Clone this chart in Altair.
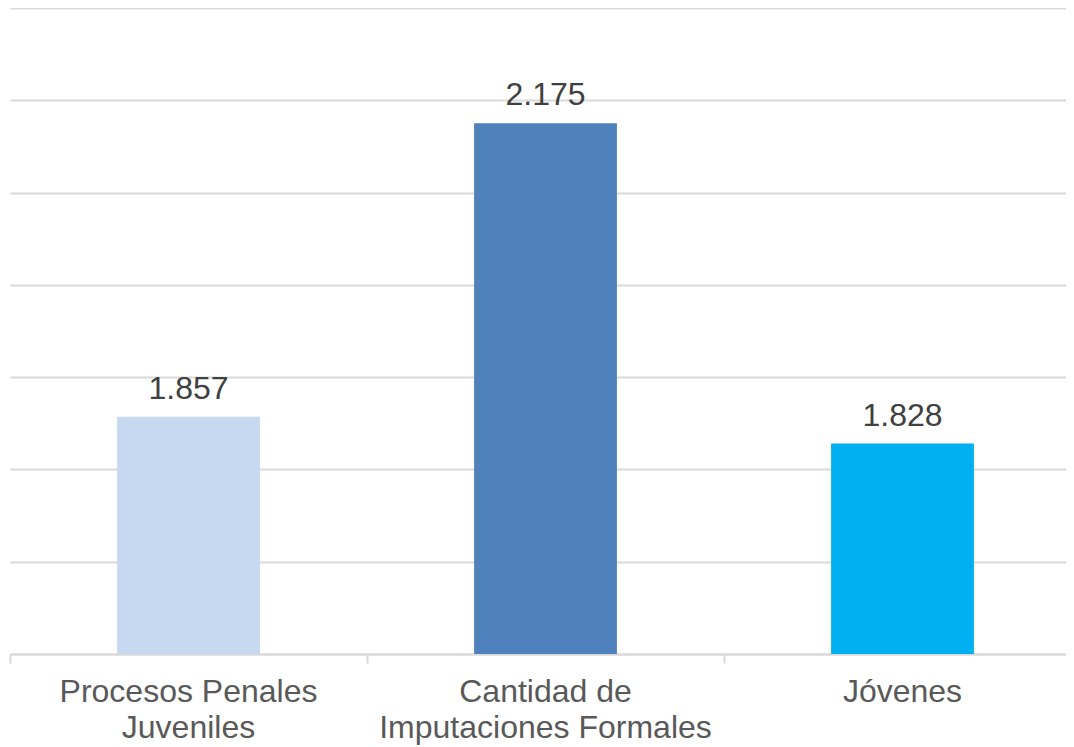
import altair as alt
import pandas as pd

categories = ["Procesos Penales Juveniles", "Cantidad de Imputaciones Formales", "Jóvenes"]
values = [1857, 2175, 1828]
colors = ["#c6d9f1", "#4f81bd", "#00b0f0"]
y_ticks = [1600, 1700, 1800, 1900, 2000, 2100, 2200, 2300]
y_min, y_max = 1600, 2300

df = pd.DataFrame({"cat": categories, "val": values, "col": colors})

label_expr = ("datum.value == 'Procesos Penales Juveniles' ? ['Procesos Penales', 'Juveniles'] : "
              "datum.value == 'Cantidad de Imputaciones Formales' ? ['Cantidad de', 'Imputaciones Formales'] : datum.value")

x = alt.X("cat:N", sort=categories, title=None,
          scale=alt.Scale(range=[0, 1071], paddingInner=0, paddingOuter=0),
          axis=alt.Axis(bandPosition=0, labelAngle=0, labelExpr=label_expr,
                        labelFont="Liberation Sans", labelFontSize=32, labelColor="#595959",
                        labelLineHeight=36, labelBaseline="top", labelPadding=13, labelLimit=500,
                        labelOverlap=False, labelBound=False, labelFlush=False,
                        tickSize=9, tickColor="#d9d9d9", tickWidth=2,
                        domainColor="#d9d9d9", domainWidth=2, grid=False))
y = alt.Y("val:Q", title=None,
          scale=alt.Scale(domain=[y_min, y_max], nice=False, zero=False),
          axis=alt.Axis(values=y_ticks, labels=False, ticks=False, domain=False,
                        grid=True, gridColor="#d9d9d9", gridWidth=2))

base = alt.Chart(df).encode(x=x, y=y).transform_calculate(
    lab="replace(format(datum.val, ','), ',', '.')"
)
bars = base.mark_bar(width=alt.RelativeBandSize(0.4)).encode(
    y2=alt.datum(y_min),
    color=alt.Color("col:N", scale=None))
text = base.mark_text(baseline="alphabetic", dy=-18, font="Liberation Sans", fontSize=32,
                      color="#404040").encode(text="lab:N")

chart = (bars + text).properties(
    width=1056, height=646,
    padding={"left": 2, "top": 0, "right": 0, "bottom": 91},
    autosize=alt.AutoSizeParams(type="none"),
).configure_view(stroke=None)

chart.save("out.html", embed_options={"renderer": "svg", "actions": False})
